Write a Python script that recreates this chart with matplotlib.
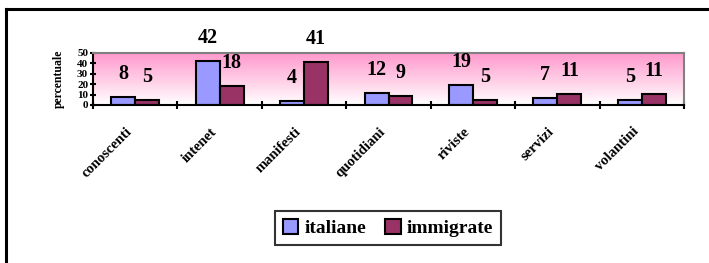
import numpy as np
import matplotlib
matplotlib.use('Agg')
from matplotlib import pyplot as plt
from matplotlib.colors import LinearSegmentedColormap
from matplotlib.lines import Line2D
import matplotlib.transforms as mtrans

categorie = ['conoscenti', 'intenet', 'manifesti', 'quotidiani', 'riviste', 'servizi', 'volantini']
italiane = [8, 42, 4, 12, 19, 7, 5]
immigrate = [5, 18, 41, 9, 5, 11, 11]
yticks = [0, 10, 20, 30, 40, 50]

plt.rcParams['font.family'] = ['Liberation Serif', 'DejaVu Serif']
plt.rcParams['font.weight'] = 'bold'

fig = plt.figure(figsize=(7.09, 2.63), dpi=100)
ax = fig.add_axes([93 / 709, 1 - 105 / 263, 591 / 709, 52 / 263])

# sfondo sfumato rosa -> bianco
cmap = LinearSegmentedColormap.from_list('rosa', ['#ffffff', '#ff99cc'])
grad = np.linspace(0, 1, 256).reshape(-1, 1)
ax.imshow(grad, aspect='auto', cmap=cmap, origin='lower',
          extent=[-0.5, len(categorie) - 0.5, 0, 50], zorder=0)

x = np.arange(len(categorie))
w = 0.284
b1 = ax.bar(x - w / 2, italiane, w, color='#9999ff', edgecolor='black', linewidth=1.5, zorder=2, label='italiane')
b2 = ax.bar(x + w / 2, immigrate, w, color='#993366', edgecolor='black', linewidth=1.5, zorder=2, label='immigrate')

for bars, vals in [(b1, italiane), (b2, immigrate)]:
    for r, v in zip(bars, vals):
        ax.annotate(str(v), (r.get_x() + r.get_width() / 2, v), xytext=(0, 23),
                    textcoords='offset pixels', ha='center', va='center',
                    fontsize=14.5, fontweight='bold', annotation_clip=False)

ax.set_xlim(-0.5, len(categorie) - 0.5)
ax.set_ylim(0, 50)
ax.set_yticks(yticks)
ax.set_yticklabels([str(t) for t in yticks], fontsize=8, fontweight='bold')
ax.set_xticks(x)
ax.set_xticklabels(categorie, rotation=45, ha='right', rotation_mode='anchor', fontsize=10.5)
ax.set_xticks(np.arange(-0.5, len(categorie)), minor=True)
ax.tick_params(axis='x', which='major', length=0, pad=8)
ax.tick_params(axis='x', which='minor', length=6, width=1.5, direction='inout')
ax.tick_params(axis='y', length=5, width=1.5, direction='inout', pad=1)
ax.set_ylabel('percentuale', fontsize=8.5, fontweight='bold', labelpad=9)

sposta = mtrans.ScaledTranslation(-10 / 100, -9 / 100, fig.dpi_scale_trans)
for lbl in ax.get_xticklabels():
    lbl.set_transform(lbl.get_transform() + sposta)

for s in ['left', 'bottom']:
    ax.spines[s].set_linewidth(1.5)
    ax.spines[s].set_color('black')
for s in ['top', 'right']:
    ax.spines[s].set_linewidth(1.5)
    ax.spines[s].set_color('#808080')

leg = fig.legend(handles=[b1, b2], loc='center', bbox_to_anchor=(388 / 709, 1 - 228 / 263),
                 ncol=2, fontsize=14, frameon=True, fancybox=False, handlelength=0.8,
                 handleheight=0.8, handletextpad=0.3, columnspacing=1.0, borderpad=0.4)
leg.get_frame().set_edgecolor('black')
leg.get_frame().set_linewidth(1.5)

# bordo esterno
fig.add_artist(Line2D([6 / 709, 1], [1 - 8.5 / 263, 1 - 8.5 / 263], color='black', lw=2.2))
fig.add_artist(Line2D([6 / 709, 6 / 709], [0, 1 - 8.5 / 263], color='black', lw=2.2))

fig.savefig('out.png', dpi=100)
